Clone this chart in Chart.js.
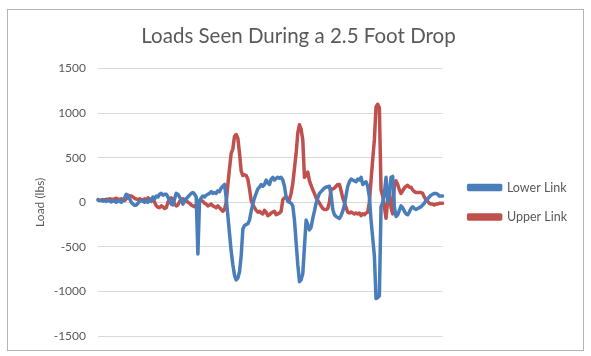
<!DOCTYPE html>
<html>
<head>
<meta charset="utf-8">
<script src="https://cdn.jsdelivr.net/npm/chart.js@4"></script>
<style>
  body { margin: 0; background: #fff; }
  #wrap { position: relative; width: 591px; height: 356px; }
  #frame {
    position: absolute; left: 7px; top: 9px; width: 575px; height: 340px;
    border: 1px solid #b4b4b4; pointer-events: none;
  }
</style>
</head>
<body>
<div id="wrap">
  <canvas id="chart" width="591" height="356"></canvas>
  <div id="frame"></div>
</div>
<script>
const chartTitle = "Loads Seen During a 2.5 Foot Drop";
const yTitle = "Load (lbs)";
const seriesNames = ["Lower Link", "Upper Link"];
const yMin = -1500, yMax = 1500, yStep = 500;

// load samples, evenly spaced in time
const lowerLink = [
  25, 20, 25, 15, 20, 10, 25, 15, 5, 20,
  10, 0, 20, 10, 0, 20, 50, 90, 80, 40,
  0, -20, -35, -30, -10, 10, 20, 10, 0, 20,
  0, 30, 10, 60, 40, 70, 60, 90, 100, 80,
  90, 90, 60, 20, -20, -30, 40, 100, 90, 60,
  20, -20, 10, 40, 60, 80, 100, 110, 90, 60,
  -580, 20, 50, 70, 60, 80, 90, 100, 120, 100,
  110, 100, 130, 120, 160, 180, 200, 50, -150, -350,
  -550, -700, -820, -870, -850, -780, -600, -300, -260, -250,
  -240, -200, -100, -20, 50, 100, 150, 170, 200, 180,
  200, 250, 220, 200, 260, 280, 250, 270, 280, 270,
  280, 250, 180, 60, 10, 0, -10, -40, -200, -450,
  -700, -890, -870, -800, -500, -200, -250, -310, -280, -180,
  -100, -10, 50, 100, 120, 140, 160, 170, 175, 180,
  80, -80, -140, -160, -170, -180, -150, -100, -30, 80,
  180, 230, 260, 250, 240, 230, 260, 250, 280, 200,
  220, 230, 180, 60, -200, -400, -600, -1080, -1070, -1050,
  -50, 0, 100, 280, 0, 100, 280, 290, -50, -160,
  -140, -90, -40, -60, -100, -130, -140, -110, -70, -50,
  -70, -80, -70, -60, -50, -30, -10, 20, 40, 60,
  80, 90, 100, 100, 90, 70, 70, 70
];
const upperLink = [
  30, 25, 20, 30, 25, 35, 30, 40, 35, 30,
  40, 45, 35, 30, 40, 30, 20, 40, 60, 75,
  70, 60, 45, 35, 30, 40, 30, 20, 40, 30,
  50, 40, 20, 50, 0, -40, -55, -60, -40, -50,
  -70, -60, 0, 40, 50, 30, -20, -40, -30, 10,
  30, 40, 30, 20, 0, -10, -30, -40, -50, -30,
  0, 10, 20, 10, -10, -20, -40, -30, -20, -40,
  -50, -60, -40, -60, -80, -100, -80, 0, 200, 380,
  550, 600, 740, 760, 720, 550, 350, 300, 310, 300,
  260, 150, 20, -30, -60, -90, -110, -100, -120, -130,
  -90, -110, -150, -140, -120, -110, -100, -140, -130, -120,
  -100, 30, 50, 60, 40, 30, 100, 210, 380, 550,
  780, 870, 820, 700, 280, 300, 340, 240, 190, 140,
  100, 50, 20, -10, -40, -70, -80, -80, -70, 0,
  150, 150, 160, 180, 200, 200, 130, 50, 0, -60,
  -110, -120, -110, -120, -130, -120, -130, -120, -150, -130,
  -140, -120, -110, 0, 250, 480, 700, 1070, 1100, 1060,
  140, 70, -50, -180, 20, 140, -60, -130, 190, 240,
  200, 140, 100, 130, 160, 180, 190, 170, 170, 140,
  120, 110, 110, 110, 110, 100, 60, 30, 10, -10,
  -20, -20, -30, -20, -20, -10, -10, -10
];
const sampleLabels = lowerLink.map((v, i) => i);

const blue = "#4a7ebb";
const red = "#c0504d";
const textColor = "#595959";
const font = "Lato, 'Open Sans', sans-serif";

// widen the legend box and push its items right, leaving a gap after the plot
const legendGap = {
  id: "legendGap",
  afterInit(chart, args, opts) {
    const legend = chart.legend;
    const fit = legend.fit;
    legend.fit = function () {
      fit.call(this);
      this.width += opts.gap;
    };
  },
  afterLayout(chart, args, opts) {
    chart.legend.left += opts.gap;
  },
};

const ctx = document.querySelector("#chart").getContext("2d");
const myChart = new Chart(ctx, {
  type: "line",
  data: {
    labels: sampleLabels,
    datasets: [
      {
        label: seriesNames[0],
        data: lowerLink,
        borderColor: blue,
        backgroundColor: blue,
        borderWidth: 3.5,
      },
      {
        label: seriesNames[1],
        data: upperLink,
        borderColor: red,
        backgroundColor: red,
        borderWidth: 3.5,
      },
    ],
  },
  plugins: [legendGap],
  options: {
    responsive: false,
    animation: false,
    layout: { padding: { top: 0, left: 20, right: 14, bottom: 20 } },
    elements: {
      point: { radius: 0 },
      line: { tension: 0, borderJoinStyle: "round", borderCapStyle: "round" },
    },
    plugins: {
      tooltip: { enabled: false },
      legendGap: { gap: 9 },
      title: {
        display: true,
        text: chartTitle,
        color: textColor,
        font: { family: font, size: 20.5, weight: "normal" },
        padding: { top: 24, bottom: 20 },
      },
      legend: {
        position: "right",
        fullSize: false,
        labels: {
          color: textColor,
          font: { family: font, size: 12.5 },
          boxWidth: 32,
          boxHeight: 4,
          padding: 17,
        },
      },
    },
    scales: {
      x: {
        display: false,
        offset: false,
      },
      y: {
        min: yMin,
        max: yMax,
        afterFit: (scale) => { scale.width = 78; },
        ticks: {
          stepSize: yStep,
          color: textColor,
          padding: 12,
          font: { family: font, size: 12 },
          callback: (v) => String(v),
        },
        grid: { color: "#d9d9d9", drawTicks: false },
        border: { display: false },
        title: {
          display: true,
          text: yTitle,
          color: textColor,
          font: { family: font, size: 12 },
          padding: { top: 13, bottom: 0 },
        },
      },
    },
  },
});
</script>
</body>
</html>
